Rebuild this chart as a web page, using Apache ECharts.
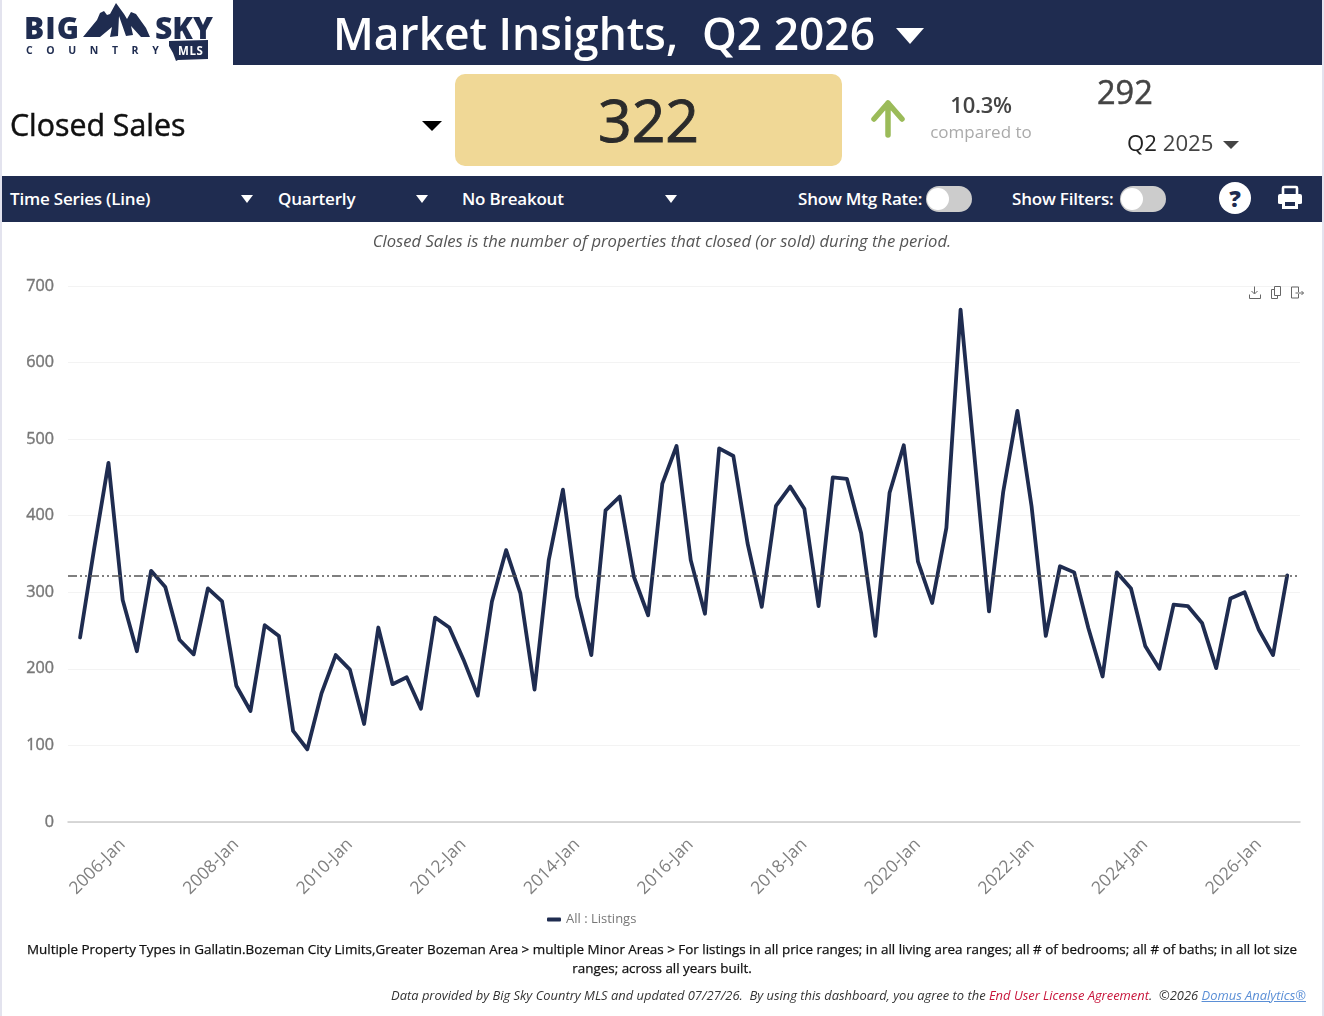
<!DOCTYPE html>
<html><head><meta charset="utf-8">
<script src="https://cdn.jsdelivr.net/npm/echarts@6/dist/echarts.min.js"></script>
<style>
html,body{margin:0;padding:0;background:#fff;width:1324px;height:1016px;overflow:hidden;font-family:"Open Sans",sans-serif}
#chart{position:absolute;left:0;top:0;width:1324px;height:1016px}
.a{position:absolute;white-space:nowrap;line-height:1}
.navy{background:#1f2c50}
.tri{position:absolute;width:0;height:0;border-left-style:solid;border-right-style:solid;border-top-style:solid;border-left-color:transparent;border-right-color:transparent}
.bar{color:#fff;font-size:17px;font-weight:600;letter-spacing:-.2px}
.tog{position:absolute;width:46px;height:26px;border-radius:13px;background:#ccc}
.tog i{position:absolute;left:1px;top:2px;width:22px;height:22px;border-radius:11px;background:#fff}
.med{-webkit-text-stroke:.5px currentColor}
</style></head><body>
<div id="chart"></div>
<div class="a" style="left:0;top:0;width:2px;height:1016px;background:#e3e3ee"></div>
<div class="a" style="left:1322px;top:0;width:2px;height:1016px;background:#e3e3ee"></div>

<svg class="a" style="left:20px;top:0" width="200" height="64" viewBox="20 0 200 64">
  <path d="M83 37 L97 20 L100 13 L104 11 L107 15 L110 14 L116 3 L124 14 L127 19 L131 12 L136 14 L146 28 L150 37 L141 37 L131 26 L133 35 L126 36 L119 16 L118 36 L110 37 L112 27 L100 37 Z" fill="#1f2c50"/>
  <text x="24" y="39" font-family="Open Sans" font-weight="800" font-size="30" letter-spacing="1" fill="#1f2c50" textLength="56" lengthAdjust="spacingAndGlyphs">BIG</text>
  <text x="155" y="39" font-family="Open Sans" font-weight="800" font-size="30" fill="#1f2c50" textLength="58" lengthAdjust="spacingAndGlyphs">SKY</text>
  <text x="26" y="54" font-family="Open Sans" font-weight="700" font-size="10.5" letter-spacing="13.6" fill="#1f2c50">COUNTRY</text>
  <path d="M169 41 L208 40 L208 59 L178 60 L176 61 L173 53 L169 46 Z" fill="#1f2c50"/>
  <text x="178" y="55" font-family="Open Sans" font-weight="700" font-size="11.5" letter-spacing=".6" fill="#fff">MLS</text>
</svg>

<div class="a navy" style="left:233px;top:0;width:1089px;height:65px"></div>
<div class="a" style="left:333px;top:11px;font-size:44.3px;font-weight:600;color:#fff">Market Insights,</div>
<div class="a" style="left:702px;top:11px;font-size:44.3px;font-weight:600;color:#fff">Q2 2026</div>
<div class="tri" style="left:896px;top:28px;border-width:16px 14px 0;border-top-color:#fff"></div>

<div class="a med" style="left:10px;top:110px;font-size:30.3px;color:#111">Closed Sales</div>
<div class="tri" style="left:422px;top:121px;border-width:10px 10px 0;border-top-color:#000"></div>
<div class="a" style="left:455px;top:74px;width:387px;height:92px;background:#f0d896;border-radius:10px"></div>
<div class="a med" style="left:455px;top:90px;width:387px;text-align:center;font-size:59px;color:#2b2b2b;-webkit-text-stroke-width:.9px">322</div>
<svg class="a" style="left:868px;top:98px" width="42" height="44"><path d="M20 5 L20 37 M6 21 L20 5 L34 21" fill="none" stroke="#9bbb59" stroke-width="5.5" stroke-linecap="round" stroke-linejoin="round"/></svg>
<div class="a" style="left:881px;top:93px;width:200px;text-align:center;font-size:22px;font-weight:600;color:#444;letter-spacing:-.3px">10.3%</div>
<div class="a" style="left:881px;top:123px;width:200px;text-align:center;font-size:17px;color:#aaa">compared to</div>
<div class="a med" style="left:1097px;top:76px;font-size:32.5px;color:#444">292</div>
<div class="a" style="left:1127px;top:132px;font-size:22.2px;color:#222">Q2 <span style="color:#444">2025</span></div>
<div class="tri" style="left:1223px;top:141px;border-width:8px 8px 0;border-top-color:#444"></div>

<div class="a navy" style="left:2px;top:176px;width:1320px;height:46px"></div>
<div class="a bar" style="left:10px;top:190px">Time Series (Line)</div>
<div class="tri" style="left:241px;top:195px;border-width:8px 6.5px 0;border-top-color:#fff"></div>
<div class="a bar" style="left:278px;top:190px">Quarterly</div>
<div class="tri" style="left:416px;top:195px;border-width:8px 6.5px 0;border-top-color:#fff"></div>
<div class="a bar" style="left:462px;top:190px">No Breakout</div>
<div class="tri" style="left:665px;top:195px;border-width:8px 6.5px 0;border-top-color:#fff"></div>
<div class="a bar" style="left:798px;top:190px">Show Mtg Rate:</div>
<div class="tog" style="left:926px;top:186px"><i></i></div>
<div class="a bar" style="left:1012px;top:190px">Show Filters:</div>
<div class="tog" style="left:1120px;top:186px"><i></i></div>
<div class="a" style="left:1219px;top:182px;width:32px;height:32px;border-radius:16px;background:#fff;color:#1f2c50;font-size:23px;font-weight:800;line-height:32px;text-align:center">?</div>
<svg class="a" style="left:1277px;top:185px" width="26" height="26"><path d="M6 10 L6 3 Q6 2 7 2 L19 2 Q20 2 20 3 L20 10" fill="none" stroke="#fff" stroke-width="2.6"/><path d="M3 9 L23 9 Q25 9 25 11 L25 18 Q25 19 23 19 L21 19 L21 24 L5 24 L5 19 L3 19 Q1 19 1 18 L1 11 Q1 9 3 9 Z M8 17 L8 21 L18 21 L18 17 Z" fill="#fff" fill-rule="evenodd"/></svg>

<div class="a" style="left:0;top:233px;width:1324px;text-align:center;font-size:16.6px;font-style:italic;color:#555">Closed Sales is the number of properties that closed (or sold) during the period.</div>

<div class="a" style="left:20px;top:940px;width:1284px;white-space:normal;text-align:center;font-size:13.43px;line-height:19px;color:#111;-webkit-text-stroke:.25px #111">Multiple Property Types in Gallatin.Bozeman City Limits,Greater Bozeman Area &gt; multiple Minor Areas &gt; For listings in all price ranges; in all living area ranges; all # of bedrooms; all # of baths; in all lot size ranges; across all years built.</div>
<div class="a" style="right:18px;top:989px;font-size:12.93px;font-style:italic;color:#333">Data provided by Big Sky Country MLS and updated 07/27/26.&nbsp; By using this dashboard, you agree to the <span style="color:#c8163c">End User License Agreement</span>.&nbsp; ©2026 <span style="color:#5b8fd6;text-decoration:underline">Domus Analytics®</span></div>

<script>
// Quarterly periods as labelled on the reference's axis (first point falls one quarter before 2006-Jan)
const categories = [
 '2005-Oct','2006-Jan','2006-Apr','2006-Jul','2006-Oct','2007-Jan','2007-Apr','2007-Jul','2007-Oct',
 '2008-Jan','2008-Apr','2008-Jul','2008-Oct','2009-Jan','2009-Apr','2009-Jul','2009-Oct',
 '2010-Jan','2010-Apr','2010-Jul','2010-Oct','2011-Jan','2011-Apr','2011-Jul','2011-Oct',
 '2012-Jan','2012-Apr','2012-Jul','2012-Oct','2013-Jan','2013-Apr','2013-Jul','2013-Oct',
 '2014-Jan','2014-Apr','2014-Jul','2014-Oct','2015-Jan','2015-Apr','2015-Jul','2015-Oct',
 '2016-Jan','2016-Apr','2016-Jul','2016-Oct','2017-Jan','2017-Apr','2017-Jul','2017-Oct',
 '2018-Jan','2018-Apr','2018-Jul','2018-Oct','2019-Jan','2019-Apr','2019-Jul','2019-Oct',
 '2020-Jan','2020-Apr','2020-Jul','2020-Oct','2021-Jan','2021-Apr','2021-Jul','2021-Oct',
 '2022-Jan','2022-Apr','2022-Jul','2022-Oct','2023-Jan','2023-Apr','2023-Jul','2023-Oct',
 '2024-Jan','2024-Apr','2024-Jul','2024-Oct','2025-Jan','2025-Apr','2025-Jul','2025-Oct',
 '2026-Jan','2026-Apr','2026-Jul','2026-Oct','2027-Jan'];
const closedSales = [
 241,358,469,290,223,328,307,238,219,305,288,178,145,257,243,119,95,168,218,199,128,254,180,189,148,267,254,212,165,288,355,
 299,173,342,434,294,218,407,425,320,270,442,491,342,272,488,478,364,281,413,438,409,282,450,448,377,243,430,492,340,
 286,384,669,473,275,431,537,412,243,334,326,253,190,326,305,230,200,284,282,260,201,292,300,251,218,322];
const tickLabels = ['2006-Jan','2008-Jan','2010-Jan','2012-Jan','2014-Jan','2016-Jan','2018-Jan','2020-Jan','2022-Jan','2024-Jan','2026-Jan'];
const yTicks = [0,100,200,300,400,500,600,700];
const referenceValue = [322];
const seriesName = 'All : Listings';

const chart = echarts.init(document.getElementById('chart'), null, {renderer:'canvas'});
const font = '"Open Sans"';
chart.setOption({
  animation:false,
  textStyle:{fontFamily:font},
  grid:{left:68,right:24,top:286,height:536,containLabel:false},
  legend:{data:[{name:seriesName,icon:'roundRect'}],left:542,top:908,itemWidth:14,itemHeight:4,itemGap:5,
    textStyle:{fontFamily:font,fontSize:13,color:'#777'}},
  toolbox:{right:3,top:269,itemSize:12,itemGap:6,iconStyle:{borderColor:'#666',borderWidth:1,color:'none'},
    feature:{
      myDownload:{show:true,title:'Download',icon:'path://M6 0V7M3 4.5L6 7.5L9 4.5M1 8V12H12V8',onclick(){}},
      myCopy:{show:true,title:'Copy',icon:'path://M4 0H10V9H4ZM4 3H1V12H7V9',onclick(){}},
      myExport:{show:true,title:'Export',icon:'path://M8 6V1H1V12H8V8M5 7H13M11 5L13 7L11 9',onclick(){}}
    }},
  xAxis:{type:'value',min:-0.85,max:85.9,splitLine:{show:false},axisTick:{show:false},
    axisLine:{show:true,onZero:true,lineStyle:{color:'#ccc',width:1.5}},
    axisLabel:{customValues:tickLabels.map(t=>categories.indexOf(t)),
      formatter:v=>categories[v],rotate:45,align:'center',verticalAlign:'middle',margin:48,padding:[4,0,0,9.6],
      fontFamily:font,fontSize:17.4,color:'#808080',hideOverlap:false,showMinLabel:true,showMaxLabel:true}},
  yAxis:{type:'value',min:yTicks[0],max:yTicks[yTicks.length-1],interval:100,
    axisLine:{show:false},axisTick:{show:false},
    axisLabel:{margin:14,fontFamily:font,fontSize:16.2,color:'#777',textBorderColor:'#777',textBorderWidth:.4},
    splitLine:{lineStyle:{color:'#f3f3f3',width:1}}},
  series:[{name:seriesName,type:'line',data:closedSales.map((v,i)=>[i,v]),showSymbol:false,symbol:'none',
    smooth:false,itemStyle:{color:'#1f2c50'},lineStyle:{color:'#1f2c50',width:3.8,join:'round',cap:'round'},silent:true,
    markLine:{silent:true,symbol:'none',label:{show:false},animation:false,
      lineStyle:{color:'#555',width:1.5,type:[9,3,2,3,2,3]},
      data:[{yAxis:referenceValue[0]}]}}]
});
</script>
</body></html>
